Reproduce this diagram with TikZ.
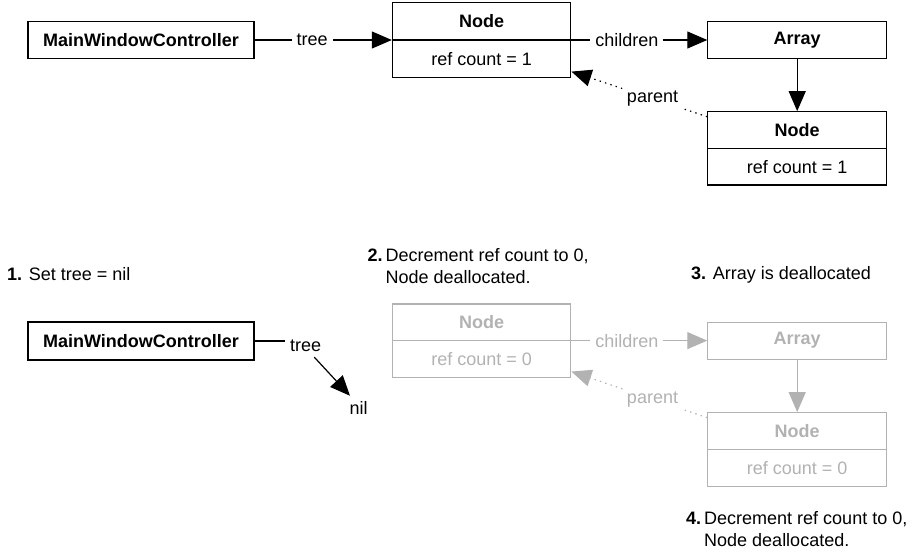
\documentclass[tikz,border=0pt]{standalone}
\usepackage{fontspec}
\setmainfont{Liberation Sans}
\usetikzlibrary{arrows.meta,calc}
\definecolor{faded}{RGB}{178,178,178}
\begin{document}
\begin{tikzpicture}[x=1pt,y=-1pt,
  font=\fontsize{18}{22}\selectfont,
  objbox/.style={draw, line width=1.2pt, inner sep=0pt},
  title/.style={font=\fontsize{18}{22}\selectfont\bfseries},
  wire/.style={line width=1.2pt},
  link/.style={wire, -{Triangle[length=20pt,width=17pt]}},
  backlink/.style={link, dash pattern=on 1.4pt off 4.2pt},
  lbl/.style={fill=white, inner sep=5pt},
  caption/.style={anchor=base west, inner sep=0pt}]

\useasboundingbox (0,0) rectangle (920,551);

% ---------- live object graph ----------
\node[objbox, title, minimum width=226pt, minimum height=37pt] (mwc1) at (141,40) {MainWindowController};

\node[objbox, minimum width=178.4pt, minimum height=74.6pt] (n1) at (481.6,40) {};
\draw[wire] (n1.west) -- (n1.east);
\node[title, inner sep=0pt] (n1t) at ($(n1.north)!0.5!(n1.center)$) {Node};
\node[inner sep=0pt] (n1c) at ($(n1.center)!0.5!(n1.south)$) {ref count = 1};

\node[objbox, title, minimum width=178.7pt, minimum height=36.6pt] (arr1) at (797.2,40) {Array};

\node[objbox, minimum width=178.7pt, minimum height=73.3pt] (n2) at (797.2,148.4) {};
\draw[wire] (n2.west) -- (n2.east);
\node[title, inner sep=0pt] (n2t) at ($(n2.north)!0.5!(n2.center)$) {Node};
\node[inner sep=0pt] (n2c) at ($(n2.center)!0.5!(n2.south)$) {ref count = 1};

\draw[link] (mwc1.east) -- node[lbl, pos=0.42] {tree} (n1.west);
\draw[link] (n1.east) -- node[lbl, pos=0.408] {children} (arr1.west);
\draw[link] (arr1.south) -- (n2.north);
\draw[backlink] ([yshift=-5.6pt]n2.north west) -- node[lbl, pos=0.403, inner sep=3pt] {parent} ([yshift=6.3pt]n1.south east);

% ---------- steps of the teardown ----------
\node[caption] (s1) at (7,280) {\textbf{1.} Set tree = nil};
\node[caption] (s2) at (367.3,261) {\begin{tabular}[t]{@{}l@{\hspace{3pt}}l@{}}\textbf{2.} & Decrement ref count to 0,\\ & Node deallocated.\end{tabular}};
\node[caption] (s3) at (691,279.5) {\textbf{3.} Array is deallocated};
\node[caption] (s4) at (686,524) {\begin{tabular}[t]{@{}l@{\hspace{3pt}}l@{}}\textbf{4.} & Decrement ref count to 0,\\ & Node deallocated.\end{tabular}};

% controller drops its reference
\node[objbox, title, minimum width=226pt, minimum height=38pt] (mwc2) at (141,341) {MainWindowController};
\node[anchor=base west, inner sep=0pt] (tl) at (290,351.7) {tree};
\coordinate (tlend) at (285,341);
\draw[wire] (mwc2.east) -- (tlend);
\node[anchor=base, inner sep=0pt] (nil) at (358.7,414) {nil};
\draw[link] ([shift={(8.5pt,-5pt)}]tl.south) -- ([shift={(-8.7pt,5pt)}]nil.north);

% deallocated objects, drawn faded
\begin{scope}[color=faded]
\node[objbox, minimum width=178.4pt, minimum height=73.3pt] (g1) at (481.6,340.6) {};
\draw[wire] (g1.west) -- (g1.east);
\node[title, inner sep=0pt] (g1t) at ($(g1.north)!0.5!(g1.center)$) {Node};
\node[inner sep=0pt] (g1c) at ($(g1.center)!0.5!(g1.south)$) {ref count = 0};

\node[objbox, title, minimum width=178.7pt, minimum height=37pt] (garr) at (797.2,340.6) {Array};

\node[objbox, minimum width=178.7pt, minimum height=74pt] (g2) at (797.2,449.7) {};
\draw[wire] (g2.west) -- (g2.east);
\node[title, inner sep=0pt] (g2t) at ($(g2.north)!0.5!(g2.center)$) {Node};
\node[inner sep=0pt] (g2c) at ($(g2.center)!0.5!(g2.south)$) {ref count = 0};

\draw[link] (g1.east) -- node[lbl, pos=0.408] {children} (garr.west);
\draw[link] (garr.south) -- (g2.north);
\draw[backlink] ([yshift=-5.6pt]g2.north west) -- node[lbl, pos=0.403, inner sep=3pt] {parent} ([yshift=6.3pt]g1.south east);
\end{scope}
\end{tikzpicture}
\end{document}
